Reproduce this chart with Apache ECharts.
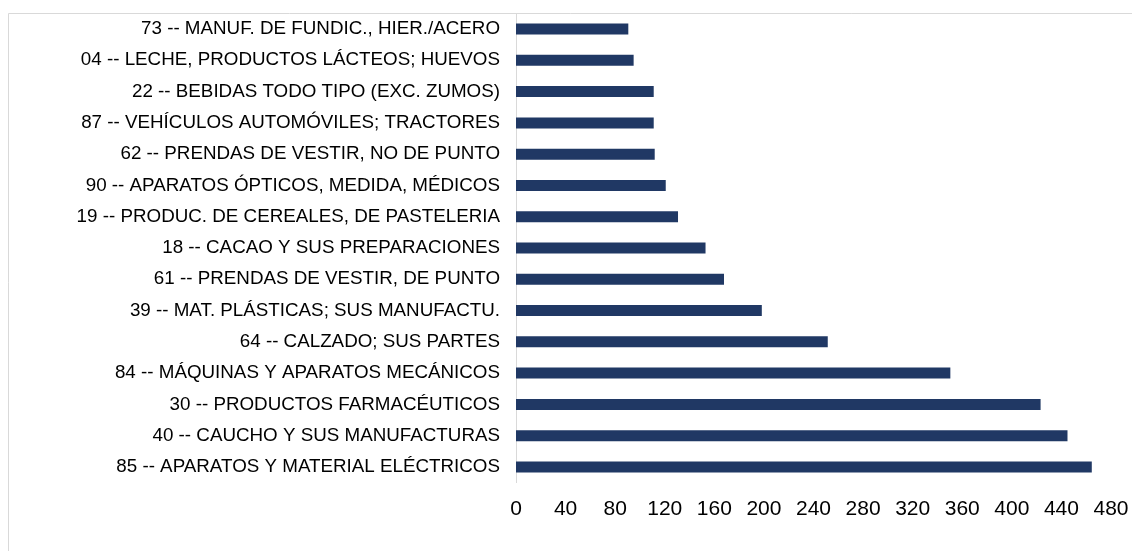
<!DOCTYPE html>
<html>
<head>
<meta charset="utf-8">
<script src="https://cdn.jsdelivr.net/npm/echarts@6/dist/echarts.min.js"></script>
<style>html,body{margin:0;padding:0;background:#fff}#c{width:1132px;height:551px}</style>
</head>
<body>
<div id="c"></div>
<script>
const categories = [
  "73 -- MANUF. DE FUNDIC., HIER./ACERO",
  "04 -- LECHE, PRODUCTOS LÁCTEOS; HUEVOS",
  "22 -- BEBIDAS TODO TIPO (EXC. ZUMOS)",
  "87 -- VEHÍCULOS AUTOMÓVILES; TRACTORES",
  "62 -- PRENDAS DE VESTIR, NO DE PUNTO",
  "90 -- APARATOS ÓPTICOS, MEDIDA, MÉDICOS",
  "19 -- PRODUC. DE CEREALES, DE PASTELERIA",
  "18 -- CACAO Y SUS PREPARACIONES",
  "61 -- PRENDAS DE VESTIR, DE PUNTO",
  "39 -- MAT. PLÁSTICAS; SUS MANUFACTU.",
  "64 -- CALZADO; SUS PARTES",
  "84 -- MÁQUINAS Y APARATOS MECÁNICOS",
  "30 -- PRODUCTOS FARMACÉUTICOS",
  "40 -- CAUCHO Y SUS MANUFACTURAS",
  "85 -- APARATOS Y MATERIAL ELÉCTRICOS"
];
const values = [90.6, 94.9, 111.1, 111.1, 111.9, 120.8, 130.7, 152.9, 167.8, 198.3, 251.5, 350.4, 423.2, 444.9, 464.5];
const xMin = 0, xMax = 480, xStep = 40;

const chart = echarts.init(document.getElementById('c'), null, {renderer: 'canvas'});
chart.setOption({
  animation: false,
  backgroundColor: '#fff',
  graphic: [{
    type: 'rect', silent: true, z: -1,
    shape: {x: 8.5, y: 13.5, width: 1200, height: 700},
    style: {fill: 'none', stroke: '#d9d9d9', lineWidth: 1}
  }],
  grid: {left: 516, right: 21, top: 13.4, bottom: 68.4, containLabel: false},
  xAxis: {
    type: 'value', min: xMin, max: xMax, interval: xStep,
    axisLine: {show: false}, axisTick: {show: false}, splitLine: {show: false},
    axisLabel: {color: '#000', fontFamily: 'Liberation Sans, Arial, sans-serif', fontSize: 21, margin: 16}
  },
  yAxis: {
    type: 'category', data: categories, inverse: true,
    axisLine: {show: true, lineStyle: {color: '#d9d9d9', width: 1}},
    axisTick: {show: false},
    axisLabel: {color: '#000', fontFamily: 'Liberation Sans, Arial, sans-serif', fontSize: 18.8, margin: 16}
  },
  series: [{
    type: 'bar', data: values, barWidth: 11,
    itemStyle: {color: '#203864'}
  }]
});
</script>
</body>
</html>
